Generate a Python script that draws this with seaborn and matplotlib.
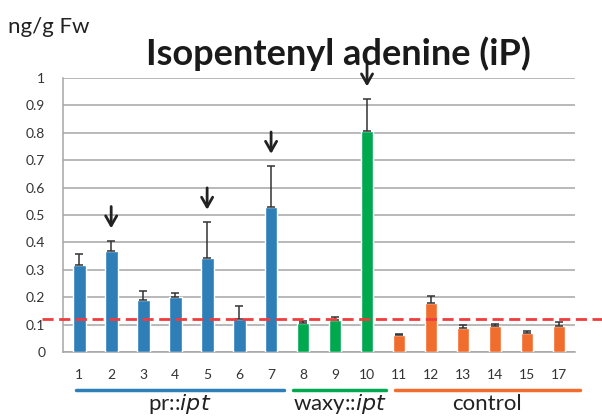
import matplotlib
matplotlib.use("Agg")
import matplotlib.pyplot as plt
import matplotlib.transforms as mtransforms
import seaborn as sns
import pandas as pd
import numpy as np

# data
lines = ['1', '2', '3', '4', '5', '6', '7', '8', '9', '10',
         '11', '12', '13', '14', '15', '17']
groups = ['pr::ipt'] * 7 + ['waxy::ipt'] * 3 + ['control'] * 6
ip_mean = [0.318, 0.368, 0.189, 0.199, 0.344, 0.120, 0.530,
           0.104, 0.117, 0.807,
           0.061, 0.178, 0.087, 0.094, 0.068, 0.094]
ip_err = [0.038, 0.038, 0.034, 0.017, 0.130, 0.046, 0.148,
          0.008, 0.010, 0.117,
          0.005, 0.027, 0.013, 0.008, 0.009, 0.015]
threshold = 0.122
marked = ['2', '5', '7', '10']

palette = {'pr::ipt': '#2E7EB8', 'waxy::ipt': '#00A850', 'control': '#F26D2D'}

df = pd.DataFrame({'line': lines, 'group': groups, 'iP': ip_mean, 'err': ip_err})

sns.set_style('white')
plt.rcParams['font.family'] = ['Lato', 'DejaVu Sans']

fig = plt.figure(figsize=(6.02, 4.17), dpi=100)
ax = fig.add_axes([0.105, 0.156, 0.850, 0.657])

sns.barplot(data=df, x='line', y='iP', hue='group', palette=palette,
            dodge=False, width=0.4, saturation=1, legend=False, ax=ax, zorder=3)

xs = np.arange(len(lines))
ax.errorbar(xs, df['iP'], yerr=[np.zeros(len(xs)), df['err']], fmt='none',
            ecolor='#333333', elinewidth=1.1, capsize=3, capthick=1.1, zorder=4)

ax.set_ylim(0, 1)
ax.set_xlim(-0.5, len(lines) - 0.5)
ax.set_yticks(np.arange(0, 1.01, 0.1))
ax.set_yticklabels(['0', '0.1', '0.2', '0.3', '0.4', '0.5', '0.6', '0.7', '0.8', '0.9', '1'])
ax.yaxis.grid(True, color='#A6A6A6', linewidth=1.1, zorder=0)
ax.set_axisbelow(True)
ax.set_xlabel('')
ax.set_ylabel('')
for s in ['top', 'right']:
    ax.spines[s].set_visible(False)
for s in ['left', 'bottom']:
    ax.spines[s].set_color('#A6A6A6')
    ax.spines[s].set_linewidth(1.1)
ax.tick_params(axis='y', length=5, color='#A6A6A6', labelsize=10, labelcolor='#333333', pad=8)
ax.tick_params(axis='x', which='major', length=0, labelsize=10, labelcolor='#333333', pad=12)
ax.set_xticks(np.arange(-0.5, len(lines), 1), minor=True)
ax.tick_params(axis='x', which='minor', length=5, color='#A6A6A6', width=1.1)

# threshold line running past the axes
ax.axhline(threshold, xmin=-0.041, xmax=1.06, color='#F03C3C', linestyle=(0, (4, 2)),
           linewidth=2, clip_on=False, zorder=5)

# arrows over selected lines
for m in marked:
    i = lines.index(m)
    tip = ip_mean[i] + ip_err[i] + 0.035
    ax.annotate('', xy=(i, tip), xytext=(i, tip + 0.1),
                arrowprops=dict(arrowstyle='->,head_length=0.7,head_width=0.4',
                                color='#222222', lw=2),
                annotation_clip=False, zorder=6)

# group underlines and labels
trans = mtransforms.blended_transform_factory(ax.transData, fig.transFigure)
spans = {'pr::ipt': (-0.1, 6.4), 'waxy::ipt': (6.68, 9.6), 'control': (9.86, 15.66)}
names = {'pr::ipt': r'pr::$\it{ipt}$', 'waxy::ipt': r'waxy::$\it{ipt}$', 'control': 'control'}
for g, (x0, x1) in spans.items():
    ax.plot([x0, x1], [0.064, 0.064], transform=trans, color=palette[g],
            linewidth=2.5, clip_on=False)
    ax.text((x0 + x1) / 2, 0.032, names[g], transform=trans, ha='center',
            va='center', fontsize=16, color='#222222')

fig.text(0.013, 0.935, 'ng/g Fw', fontsize=16, color='#222222', va='center')
fig.text(0.562, 0.872, 'Isopentenyl adenine (iP)', fontsize=26, fontweight='bold',
         color='#1a1a1a', ha='center', va='center')

plt.savefig('out.png', dpi=100)
plt.close()
